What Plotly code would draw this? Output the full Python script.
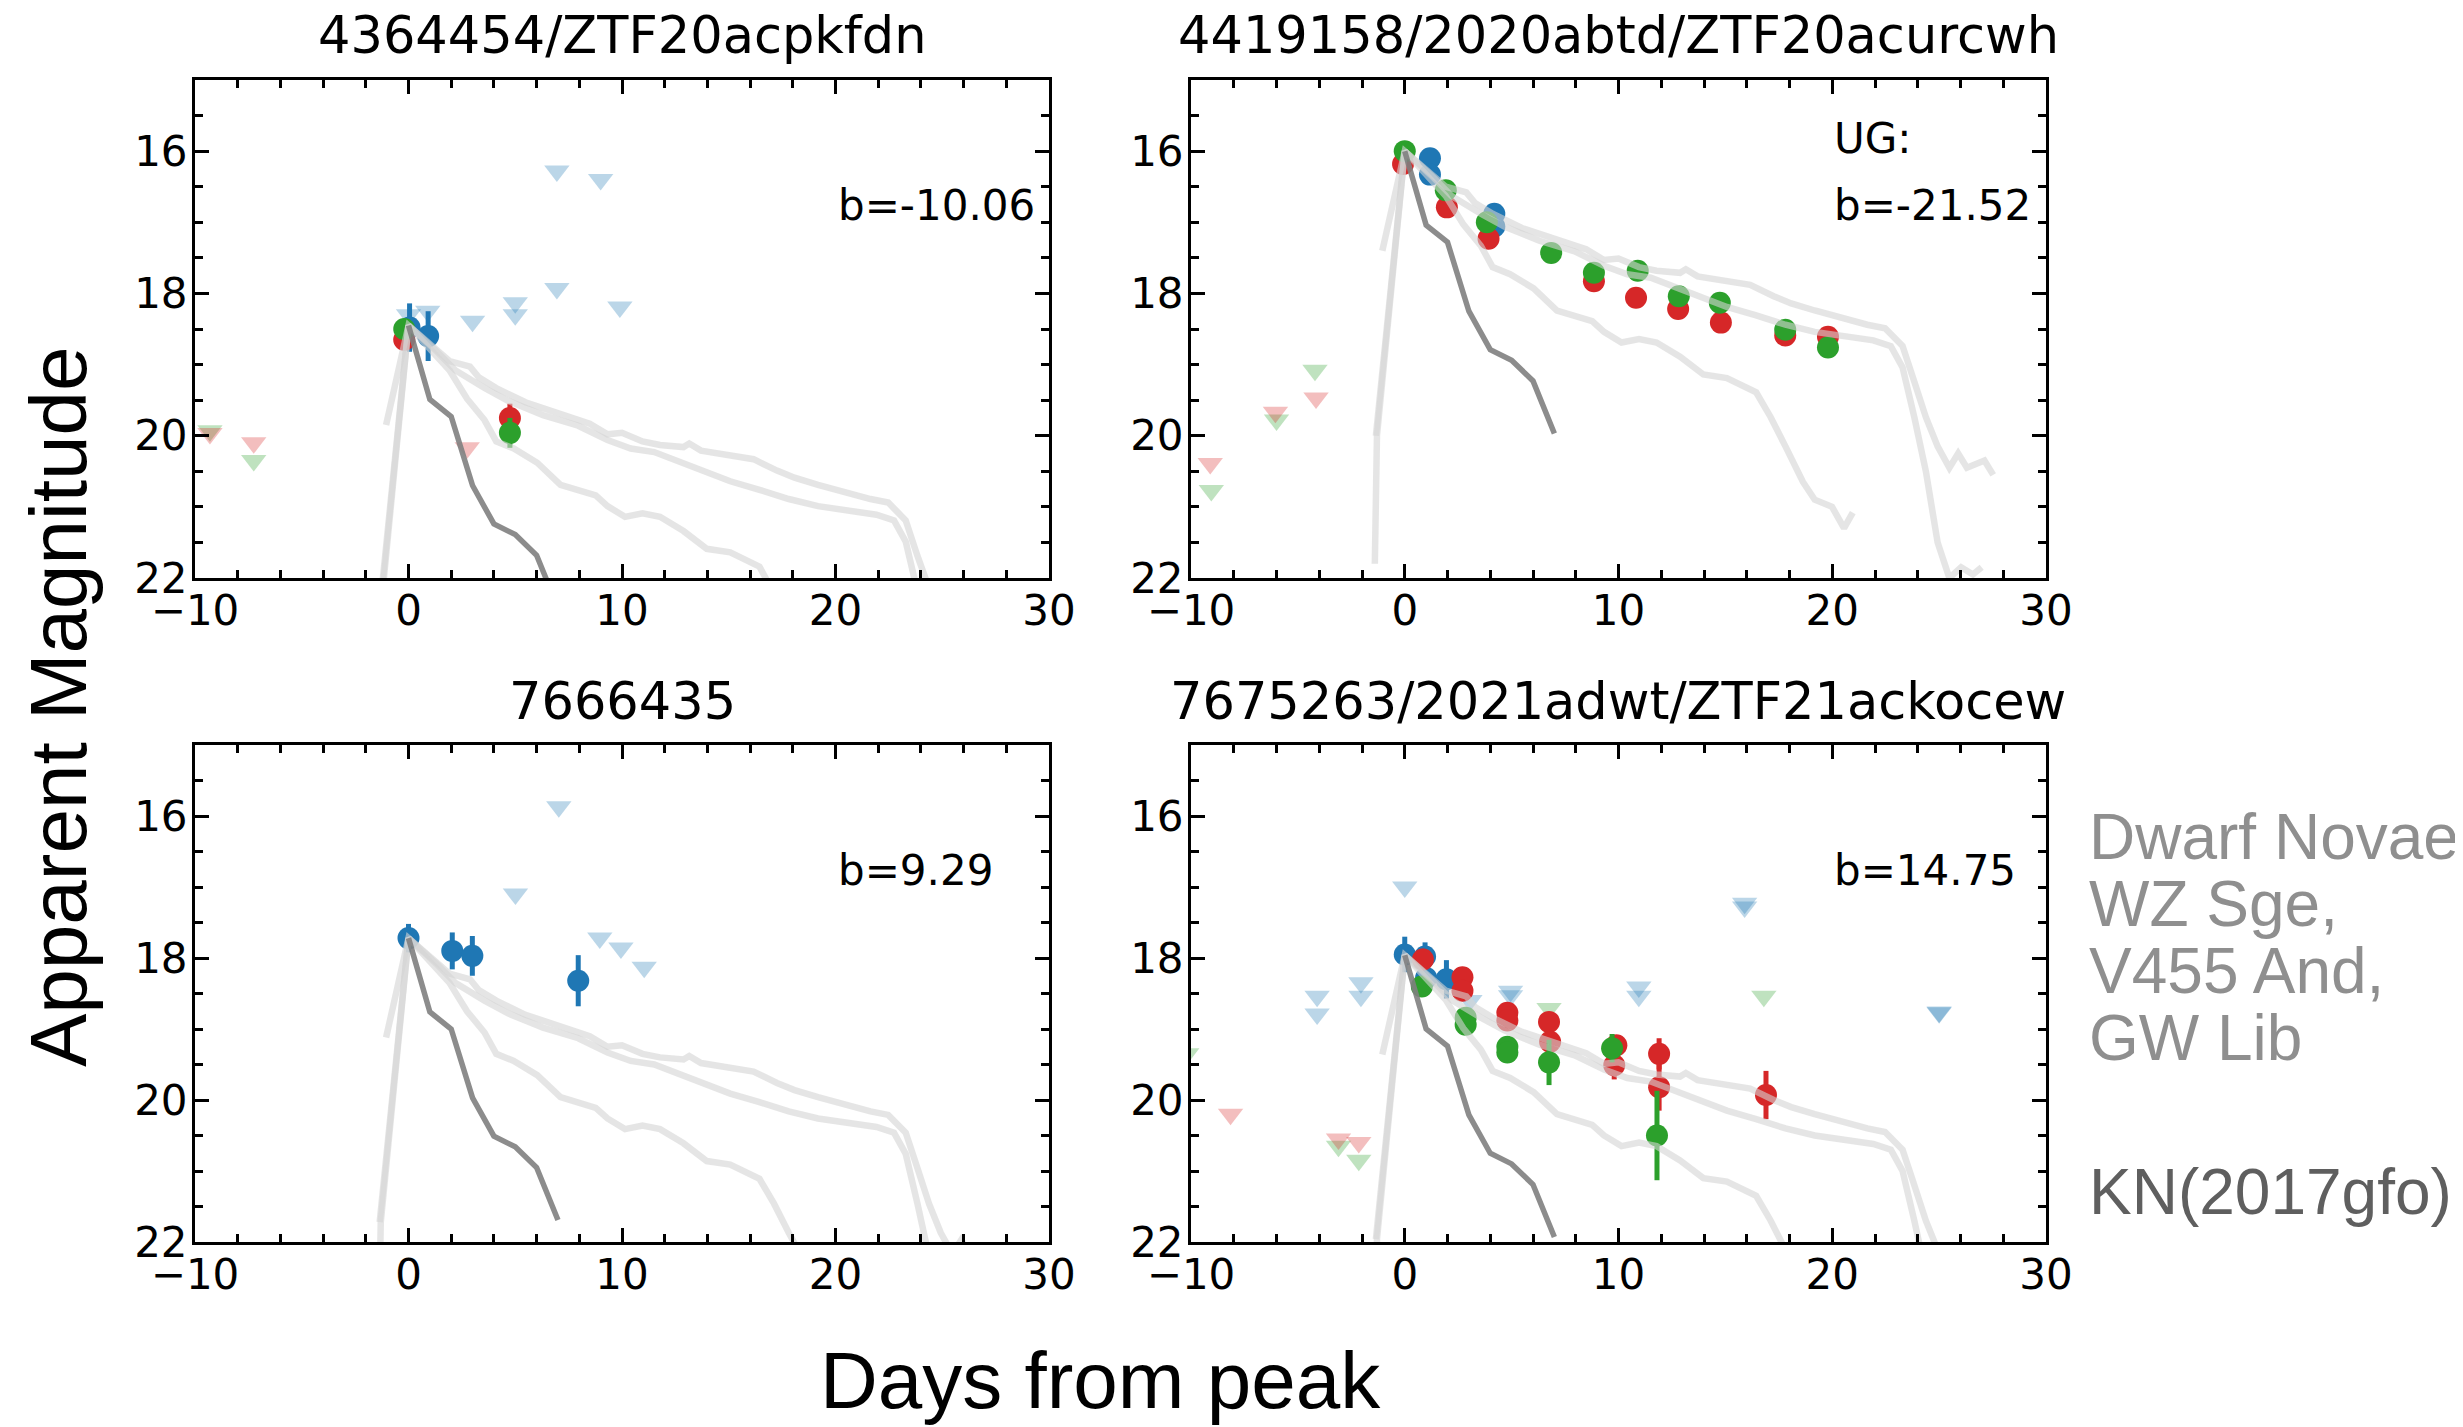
import plotly.graph_objects as go

# ---------------- data ----------------
TITLES = ["4364454/ZTF20acpkfdn", "4419158/2020abtd/ZTF20acurcwh",
          "7666435", "7675263/2021adwt/ZTF21ackocew"]
B_LABELS = ["b=-10.06", "b=-21.52", "b=9.29", "b=14.75"]
PEAK_MAG = [18.45, 16.0, 17.72, 17.96]

# detections (day, mag, err)
TL_g = [(-0.2, 18.50, 0.08), (4.75, 19.96, 0.21)]
TL_r = [(-0.2, 18.65, 0.08), (4.75, 19.75, 0.20)]
TL_b = [(0.05, 18.48, 0.34), (0.92, 18.60, 0.35)]
# upper limits (day, mag)
TL_g_lim = [(-9.3, 19.93), (-7.25, 20.35)]
TL_r_lim = [(-9.3, 19.97), (-7.25, 20.10), (2.75, 20.17)]
TL_b_lim = [(6.95, 16.28), (9.0, 16.40), (6.95, 17.93), (5.0, 18.13), (5.0, 18.30),
            (9.9, 18.19), (3.0, 18.39), (0.9, 18.25), (0.0, 18.30)]

TR_g = [(0.0, 16.0, 0.03), (1.92, 16.55, 0.03), (3.84, 17.0, 0.03), (6.85, 17.43, 0.03),
        (8.85, 17.71, 0.03), (10.9, 17.68, 0.03), (12.82, 18.04, 0.03), (14.74, 18.13, 0.03),
        (17.8, 18.51, 0.03), (19.8, 18.76, 0.03)]
TR_r = [(-0.08, 16.18, 0.03), (1.97, 16.79, 0.03), (3.92, 17.23, 0.03), (8.85, 17.83, 0.03),
        (10.82, 18.06, 0.03), (12.79, 18.22, 0.03), (14.79, 18.41, 0.03), (17.8, 18.59, 0.03),
        (19.8, 18.61, 0.03)]
TR_b = [(1.18, 16.10, 0.03), (1.18, 16.33, 0.03), (4.19, 16.88, 0.03), (4.19, 17.06, 0.05)]
TR_g_lim = [(-9.05, 20.77), (-6.0, 19.78), (-4.2, 19.08)]
TR_r_lim = [(-9.1, 20.39), (-6.05, 19.67), (-4.15, 19.47)]
TR_b_lim = []

BL_g = []
BL_r = []
BL_b = [(0.0, 17.72, 0.20), (2.05, 17.90, 0.26), (2.99, 17.97, 0.28), (7.95, 18.32, 0.36)]
BL_g_lim = []
BL_r_lim = []
BL_b_lim = [(7.04, 15.87), (5.01, 17.10), (8.96, 17.72), (9.95, 17.86), (11.04, 18.13)]

BR_g = [(0.8, 18.40, 0.10), (2.85, 18.84, 0.08), (2.85, 18.94, 0.08), (4.8, 19.25, 0.08),
        (4.8, 19.33, 0.08), (6.75, 19.47, 0.32), (9.7, 19.27, 0.20), (11.8, 20.50, 0.63)]
BR_r = [(0.85, 18.02, 0.15), (2.7, 18.27, 0.08), (2.7, 18.46, 0.08), (4.8, 18.77, 0.08),
        (4.8, 18.88, 0.08), (6.75, 18.90, 0.08), (6.8, 19.18, 0.10), (9.9, 19.23, 0.10),
        (9.8, 19.51, 0.20), (11.9, 19.35, 0.22), (11.9, 19.82, 0.33), (16.9, 19.93, 0.34)]
BR_b = [(0.0, 17.95, 0.25), (0.95, 17.98, 0.20), (1.0, 18.28, 0.15), (1.95, 18.30, 0.27)]
BR_g_lim = [(-10.2, 19.35), (-3.1, 20.65), (-2.15, 20.85), (6.75, 18.71), (16.8, 18.54)]
BR_r_lim = [(-8.15, 20.20), (-3.1, 20.55), (-2.15, 20.60)]
BR_b_lim = [(0.0, 17.00), (-4.1, 18.54), (-4.1, 18.79), (-2.05, 18.35), (-2.05, 18.54),
            (3.05, 18.60), (4.95, 18.47), (4.95, 18.53), (10.95, 18.41), (10.95, 18.54),
            (15.9, 17.23), (15.9, 17.28), (25.0, 18.76), (25.0, 18.77)]

# templates: days from peak and magnitude below peak
DN_A_days = [-1.05, 0.0, 1.92, 2.88, 3.29, 4.11, 5.48, 6.85, 7.67, 8.49, 9.32, 10.0, 10.96,
             11.78, 12.88, 13.15, 13.7, 15.07, 16.16, 17.26, 18.08, 19.18, 20.55, 21.64,
             22.47, 23.29, 23.84, 24.38, 24.93, 25.48, 25.89, 26.3, 27.12, 27.53]
DN_A_dmag = [1.40, 0.0, 0.50, 0.58, 0.73, 0.88, 1.08, 1.21, 1.31, 1.38, 1.53, 1.51, 1.63,
             1.68, 1.71, 1.66, 1.76, 1.83, 1.88, 2.04, 2.14, 2.24, 2.36, 2.44,
             2.49, 2.74, 3.24, 3.74, 4.15, 4.45, 4.25, 4.45, 4.35, 4.55]
DN_B_days = [-1.35, 0.0, 1.37, 2.19, 3.56, 4.66, 6.3, 7.95, 9.32, 10.41, 11.51, 12.33, 13.7,
             15.07, 16.44, 17.81, 19.18, 20.55, 21.92, 22.74, 23.29, 23.84, 24.38, 24.93,
             25.48, 26.03, 26.58, 26.99]
DN_B_dmag = [4.00, 0.0, 0.38, 0.63, 0.88, 1.06, 1.26, 1.41, 1.61, 1.73, 1.78, 1.88, 2.04,
             2.19, 2.31, 2.44, 2.54, 2.61, 2.66, 2.74, 3.04, 3.74, 4.50, 5.50,
             6.00, 5.85, 5.95, 5.85]
DN_C_days = [-1.4, -1.3, 0.0, 1.1, 1.92, 2.74, 3.56, 4.11, 4.93, 6.03, 7.12, 8.77, 9.32,
             10.14, 10.96, 11.78, 12.88, 13.97, 15.07, 16.44, 17.12, 17.81, 18.63, 19.18,
             19.99, 20.55, 20.96]
DN_C_dmag = [5.80, 4.00, 0.0, 0.38, 0.63, 1.03, 1.33, 1.63, 1.73, 1.93, 2.24, 2.39, 2.54,
             2.69, 2.64, 2.69, 2.89, 3.14, 3.19, 3.39, 3.74, 4.15, 4.65, 4.90,
             5.00, 5.30, 5.08]
KN_days = [0, 1, 2, 3, 4, 5, 6, 7]
KN_dmag = [0.0, 1.04, 1.28, 2.25, 2.79, 2.94, 3.23, 3.97]

PANELS = [
    (TL_g, TL_r, TL_b, TL_g_lim, TL_r_lim, TL_b_lim),
    (TR_g, TR_r, TR_b, TR_g_lim, TR_r_lim, TR_b_lim),
    (BL_g, BL_r, BL_b, BL_g_lim, BL_r_lim, BL_b_lim),
    (BR_g, BR_r, BR_b, BR_g_lim, BR_r_lim, BR_b_lim),
]

# ---------------- style ----------------
C_G, C_R, C_B = "#2ca02c", "#d62728", "#1f77b4"
DN_COLOR = "rgba(211,211,211,0.6)"
KN_COLOR = "rgba(128,128,128,0.9)"
OFF = 8                      # page body margin of the html page
W, H = 2463 - OFF, 1427 - OFF


def px(sx):
    return (sx - OFF) / W


def py(sy):
    return 1 - (sy - OFF) / H


XD = [[px(195), px(1049)], [px(1191), px(2046)]]
YD = [[py(578), py(80)], [py(1242), py(745)]]

fig = go.Figure()

for i, (g, r, b, gl, rl, bl) in enumerate(PANELS):
    xa = "x" if i == 0 else f"x{i+1}"
    ya = "y" if i == 0 else f"y{i+1}"
    # upper limits
    for lim, col in ((gl, C_G), (rl, C_R), (bl, C_B)):
        if lim:
            fig.add_trace(go.Scatter(
                x=[p[0] for p in lim], y=[p[1] for p in lim], mode="markers",
                marker=dict(symbol="triangle-down", size=22, color=col, opacity=0.3,
                            line=dict(width=0)),
                xaxis=xa, yaxis=ya, showlegend=False, hoverinfo="skip"))
    # detections
    for det, col in ((b, C_B), (r, C_R), (g, C_G)):
        if det:
            fig.add_trace(go.Scatter(
                x=[p[0] for p in det], y=[p[1] for p in det], mode="markers",
                marker=dict(symbol="circle", size=22, color=col, line=dict(width=0)),
                error_y=dict(type="data", array=[p[2] for p in det], visible=True,
                             color=col, thickness=5, width=0),
                xaxis=xa, yaxis=ya, showlegend=False))
    pk = PEAK_MAG[i]
    for days, dm in ((DN_A_days, DN_A_dmag), (DN_B_days, DN_B_dmag), (DN_C_days, DN_C_dmag)):
        fig.add_trace(go.Scatter(
            x=days, y=[pk + v for v in dm], mode="lines",
            line=dict(color=DN_COLOR, width=6.5), xaxis=xa, yaxis=ya,
            showlegend=False, hoverinfo="skip"))
    fig.add_trace(go.Scatter(
        x=KN_days, y=[pk + v for v in KN_dmag], mode="lines",
        line=dict(color=KN_COLOR, width=5.5), xaxis=xa, yaxis=ya,
        showlegend=False, hoverinfo="skip"))

axis_common = dict(
    showline=True, linecolor="black", linewidth=3, mirror="ticks",
    ticks="inside", ticklen=14, tickwidth=2.5, tickcolor="black",
    showgrid=False, zeroline=False, automargin=False,
    tickfont=dict(family="DejaVu Sans", size=42, color="black"),
)
layout = dict(width=W, height=H, margin=dict(l=0, r=0, t=0, b=0, autoexpand=False),
              paper_bgcolor="white", plot_bgcolor="white", showlegend=False)
for i in range(4):
    row, col = divmod(i, 2)
    sfx = "" if i == 0 else str(i + 1)
    layout["xaxis" + sfx] = dict(
        axis_common, domain=XD[col], range=[-10, 30], dtick=10, tick0=0,
        anchor="y" + sfx, ticklabelstandoff=-6,
        minor=dict(dtick=2, ticks="inside", ticklen=8, tickwidth=2.5, tickcolor="black"))
    layout["yaxis" + sfx] = dict(
        axis_common, domain=YD[row], range=[22, 15], dtick=2, tick0=0,
        anchor="x" + sfx, ticklabelstandoff=-4,
        minor=dict(dtick=0.5, ticks="inside", ticklen=8, tickwidth=2.5, tickcolor="black"))
fig.update_layout(**layout)

ann = []
title_y = [py(36), py(701)]
for i in range(4):
    row, col = divmod(i, 2)
    sfx = "" if i == 0 else str(i + 1)
    ann.append(dict(text=TITLES[i], x=sum(XD[col]) / 2, y=title_y[row], xref="paper",
                    yref="paper", xanchor="center", yanchor="middle", showarrow=False,
                    font=dict(family="DejaVu Sans", size=51, color="black")))
    ann.append(dict(text=B_LABELS[i], x=20, y=16.77, xref="x" + sfx, yref="y" + sfx,
                    xanchor="left", yanchor="middle", showarrow=False,
                    font=dict(family="DejaVu Sans", size=42, color="black")))
ann.append(dict(text="UG:", x=20, y=15.82, xref="x2", yref="y2", xanchor="left",
                yanchor="middle", showarrow=False,
                font=dict(family="DejaVu Sans", size=42, color="black")))
ann.append(dict(text="Apparent Magnitude", x=px(58), y=py(707), xref="paper",
                yref="paper", xanchor="center", yanchor="middle", textangle=-90,
                showarrow=False, font=dict(family="Liberation Sans", size=80, color="black")))
ann.append(dict(text="Days from peak", x=px(1100), y=py(1380), xref="paper",
                yref="paper", xanchor="center", yanchor="middle", showarrow=False,
                font=dict(family="Liberation Sans", size=80, color="black")))
LEGEND_DN = ["Dwarf Novae", "WZ Sge,", "V455 And,", "GW Lib"]
LEGEND_KN = "KN(2017gfo)"
for j, t in enumerate(LEGEND_DN):
    ann.append(dict(text=t, x=px(2087), y=py(836.5 + 67 * j), xref="paper",
                    yref="paper", xanchor="left", yanchor="middle", showarrow=False,
                    font=dict(family="Liberation Sans", size=64, color="#8f8f8f")))
ann.append(dict(text=LEGEND_KN, x=px(2087), y=py(1191.5), xref="paper", yref="paper",
                xanchor="left", yanchor="middle", showarrow=False,
                font=dict(family="Liberation Sans", size=64, color="#5f5f5f")))
fig.update_layout(annotations=ann)

fig.write_html("out.html")
